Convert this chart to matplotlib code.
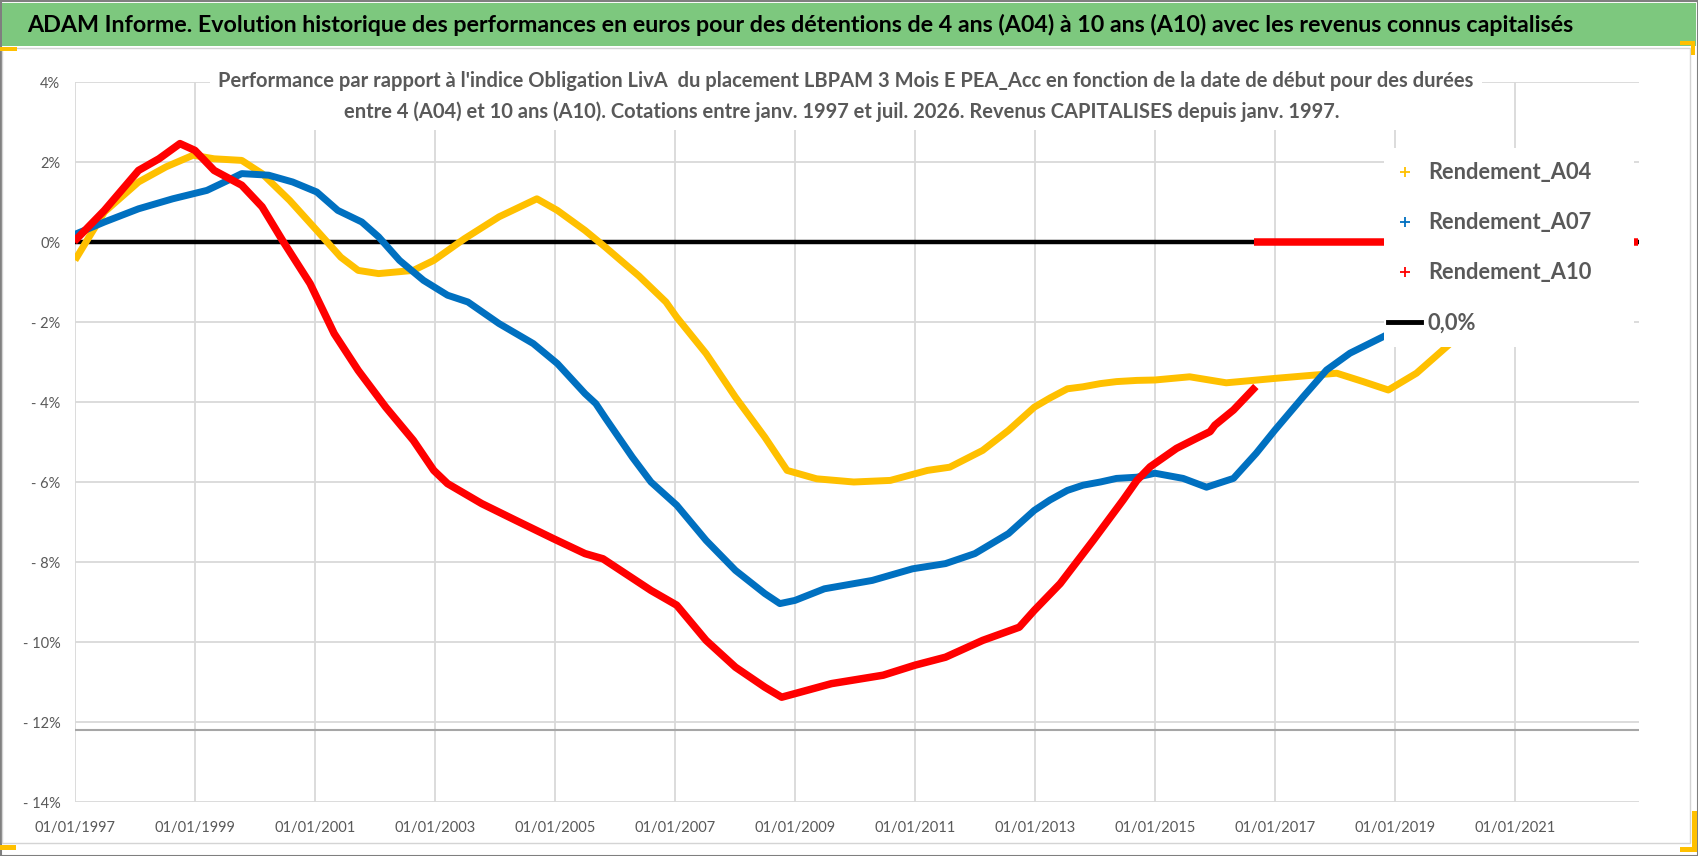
import matplotlib
matplotlib.use("Agg")
import matplotlib.pyplot as plt
import matplotlib.dates as mdates
from matplotlib.lines import Line2D
from matplotlib.patches import Rectangle
from matplotlib.ticker import FuncFormatter
from datetime import datetime, timedelta

plt.rcParams['font.family'] = ['Lato', 'DejaVu Sans']

# ---- data (start date as decimal year, performance in %) ----
a04_years = [1997.03, 1997.20, 1997.49, 1998.06, 1998.52, 1998.97, 1999.32, 1999.78,
             2000.12, 2000.58, 2001.03, 2001.43, 2001.72, 2002.06, 2002.64, 2002.98,
             2003.49, 2004.07, 2004.70, 2005.04, 2005.50, 2005.84, 2006.40, 2006.85,
             2007.03, 2007.52, 2008.01, 2008.50, 2008.87, 2009.36, 2009.98, 2010.59,
             2011.21, 2011.58, 2012.13, 2012.56, 2012.99, 2013.25, 2013.54, 2013.80,
             2014.09, 2014.36, 2014.70, 2015.00, 2015.58, 2016.19, 2017.00, 2018.03,
             2018.47, 2018.89, 2019.36, 2019.86]
a04_values = [-0.38, 0.04, 0.75, 1.50, 1.88, 2.17, 2.08, 2.04,
              1.71, 1.04, 0.29, -0.38, -0.71, -0.79, -0.71, -0.46,
              0.08, 0.63, 1.08, 0.79, 0.29, -0.13, -0.85, -1.50,
              -1.88, -2.79, -3.88, -4.88, -5.71, -5.92, -6.00, -5.96,
              -5.71, -5.63, -5.21, -4.71, -4.13, -3.90, -3.67, -3.62,
              -3.54, -3.49, -3.46, -3.45, -3.37, -3.52, -3.41, -3.28,
              -3.49, -3.70, -3.28, -2.62]

a07_years = [1997.03, 1997.49, 1998.06, 1998.63, 1999.20, 1999.55, 1999.78, 2000.23,
             2000.63, 2001.03, 2001.38, 2001.78, 2002.06, 2002.41, 2002.81, 2003.21,
             2003.55, 2004.07, 2004.64, 2005.04, 2005.50, 2005.68, 2005.84, 2006.29,
             2006.60, 2007.03, 2007.52, 2008.01, 2008.50, 2008.75, 2009.00, 2009.49,
             2010.29, 2010.96, 2011.51, 2012.00, 2012.56, 2012.99, 2013.25, 2013.54,
             2013.80, 2014.09, 2014.36, 2014.70, 2015.00, 2015.47, 2015.86, 2016.31,
             2016.69, 2017.00, 2017.47, 2017.86, 2018.25, 2018.80]
a07_values = [0.21, 0.50, 0.83, 1.08, 1.29, 1.54, 1.71, 1.67,
              1.50, 1.25, 0.79, 0.50, 0.13, -0.46, -0.96, -1.33,
              -1.50, -2.04, -2.54, -3.04, -3.79, -4.04, -4.40, -5.38,
              -6.00, -6.58, -7.46, -8.21, -8.79, -9.04, -8.96, -8.67,
              -8.46, -8.17, -8.04, -7.79, -7.29, -6.71, -6.45, -6.21,
              -6.08, -6.00, -5.91, -5.88, -5.78, -5.91, -6.13, -5.91,
              -5.28, -4.70, -3.87, -3.20, -2.78, -2.37]

a10_years = [1997.03, 1997.49, 1998.06, 1998.40, 1998.75, 1999.00, 1999.32, 1999.78,
             2000.12, 2000.46, 2000.92, 2001.32, 2001.72, 2002.18, 2002.64, 2002.98,
             2003.21, 2003.78, 2004.35, 2004.98, 2005.50, 2005.80, 2006.60, 2007.03,
             2007.52, 2008.01, 2008.50, 2008.78, 2009.00, 2009.61, 2010.47, 2011.00,
             2011.51, 2012.13, 2012.74, 2012.99, 2013.42, 2013.97, 2014.47, 2014.70,
             2014.92, 2015.36, 2015.69, 2015.92, 2016.00, 2016.31, 2016.64]
a10_values = [0.08, 0.79, 1.79, 2.08, 2.46, 2.29, 1.79, 1.42,
              0.88, 0.04, -1.04, -2.29, -3.21, -4.13, -4.96, -5.71,
              -6.04, -6.54, -6.96, -7.42, -7.79, -7.92, -8.71, -9.08,
              -9.96, -10.63, -11.13, -11.38, -11.29, -11.04, -10.83, -10.58,
              -10.38, -9.96, -9.63, -9.21, -8.54, -7.46, -6.45, -5.96,
              -5.62, -5.16, -4.91, -4.74, -4.58, -4.20, -3.68]
# no 10-year window available after mid 2016: series is 0 there
a10_tail_years = [2016.66, 2023.05]
a10_tail_values = [0.0, 0.0]

ref_years = [1997.0, 2023.05]
ref_values = [0.0, 0.0]
axis_cross = -12.19

labels = ["Rendement_A04", "Rendement_A07", "Rendement_A10", "0,0%"]
colors = ["#FFC000", "#0070C0", "#FF0000", "black"]

title = ("ADAM Informe. Evolution historique des performances en euros pour des détentions "
         "de 4 ans (A04) à 10 ans (A10) avec les revenus connus capitalisés")
sub1 = ("Performance par rapport à l'indice Obligation LivA  du placement LBPAM 3 Mois E PEA_Acc "
        "en fonction de la date de début pour des durées")
sub2 = ("entre 4 (A04) et 10 ans (A10). Cotations entre janv. 1997 et juil. 2026. "
        "Revenus CAPITALISES depuis janv. 1997.")

W, H = 1698, 856
GRAY = "#595959"


def to_date(y):
    year = int(y)
    return datetime(year, 1, 1) + timedelta(days=(y - year) * 365.25)


def dates(years):
    return [to_date(y) for y in years]


def px_rect(x0, y0, x1, y1, **kw):
    # rectangle given in pixel coords (origin top-left)
    return Rectangle((x0 / W, 1 - y1 / H), (x1 - x0) / W, (y1 - y0) / H,
                     transform=fig.transFigure, **kw)


def fit_width(txt, width_px):
    # scale the font so the text covers the same width as in the reference
    r = fig.canvas.get_renderer()
    w = txt.get_window_extent(r).width
    txt.set_fontsize(txt.get_fontsize() * width_px / w)
    return txt.get_fontsize()


fig = plt.figure(figsize=(W / 100, H / 100), dpi=100)
fig.patch.set_facecolor("white")

# frame, banner, corner handles
fig.patches.append(px_rect(0.5, 0.5, W - 0.5, H - 0.5, fill=False, ec="#7f7f7f", lw=1.5, zorder=0))
fig.patches.append(px_rect(2, 3, W - 2, 46, fc="#7dc87e", ec="none", zorder=0))
fig.patches.append(px_rect(2, 48, 1690, 843, fill=False, ec="#d4d4d4", lw=1, zorder=0))
for r in [(0, 47, 17, 51), (0, 845, 16, 850), (1680, 41, 1695, 45), (1691, 41, 1695, 55),
          (1692, 811, 1697, 852), (1680, 847, 1697, 852)]:
    fig.patches.append(px_rect(*r, fc="#FFC000", ec="none", zorder=1))

t = fig.text(27 / W, 1 - 25 / H, title, ha="left", va="center", fontsize=18,
             fontweight="bold", color="black")
fit_width(t, 1555)

ax = fig.add_axes([75 / W, 1 - 802 / H, (1639 - 75) / W, (802 - 82) / H])

ax.plot(dates(ref_years), ref_values, color="black", lw=3.2, zorder=2)
ax.plot(dates(a04_years), a04_values, color=colors[0], lw=5.0, zorder=3)
ax.plot(dates(a07_years), a07_values, color=colors[1], lw=5.0, zorder=4)
ax.plot(dates(a10_years), a10_values, color=colors[2], lw=5.4, zorder=5)
ax.plot(dates(a10_tail_years), a10_tail_values, color=colors[2], lw=5.4, zorder=5,
        solid_capstyle="butt")
ax.axhline(axis_cross, color="#a6a6a6", lw=1.5, zorder=1)

ax.set_xlim(datetime(1997, 1, 1), datetime(2023, 1, 26))
ax.set_ylim(-14, 4)
ax.set_xticks([datetime(y, 1, 1) for y in range(1997, 2022, 2)])
ax.xaxis.set_major_formatter(mdates.DateFormatter("%d/%m/%Y"))
ax.set_yticks(range(-14, 5, 2))
ax.yaxis.set_major_formatter(FuncFormatter(lambda v, p: f"{v:.0f}%" if v >= 0 else f"- {abs(v):.0f}%"))
ax.grid(True, color="#d9d9d9", lw=1.3, zorder=0)
ax.set_axisbelow(True)
for s in ax.spines.values():
    s.set_visible(False)

# tick label size taken from the width of one date label
probe = fig.text(0, 0, "01/01/1997", fontsize=12)
tick_size = fit_width(probe, 81)
probe.remove()
ax.tick_params(length=0, labelsize=tick_size, colors=GRAY)
ax.tick_params(axis="y", pad=10.5)
ax.tick_params(axis="x", pad=13.5)

# subtitle with white background hiding the grid
fig.patches.append(px_rect(210, 66, 1482, 130, fc="white", ec="none", zorder=1))
s1 = fig.text(846 / W, 1 - 81 / H, sub1, ha="center", va="center", fontsize=15,
              fontweight="bold", color=GRAY, zorder=3)
sub_size = fit_width(s1, 1261)
fig.text(1340 / W, 1 - 112 / H, sub2, ha="right", va="center", fontsize=sub_size,
         fontweight="bold", color=GRAY, zorder=3)

# legend on a white panel
fig.patches.append(px_rect(1384, 148, 1634, 347, fc="white", ec="none", zorder=1))
probe = fig.text(0, 0, "Rendement_A04", fontsize=16, fontweight="bold")
leg_size = fit_width(probe, 164)
row_h = probe.get_window_extent(fig.canvas.get_renderer()).height
probe.remove()
fs_px = leg_size * 100 / 72
handles = [Line2D([], [], ls="none", marker="+", ms=7, mew=1.3, color=c) for c in colors[:3]]
handles.append(Line2D([], [], color="black", lw=3.5))
leg = fig.legend(handles, labels, loc="upper left",
                 bbox_to_anchor=(1388 / W, 1 - (173 - row_h / 2) / H),
                 frameon=False, borderpad=0, borderaxespad=0,
                 handlelength=33 / fs_px, handletextpad=7 / fs_px,
                 labelspacing=(50 - row_h) / fs_px,
                 prop={"size": leg_size, "weight": "bold"})
for txt in leg.get_texts():
    txt.set_color(GRAY)

fig.savefig("out.png", dpi=100)
